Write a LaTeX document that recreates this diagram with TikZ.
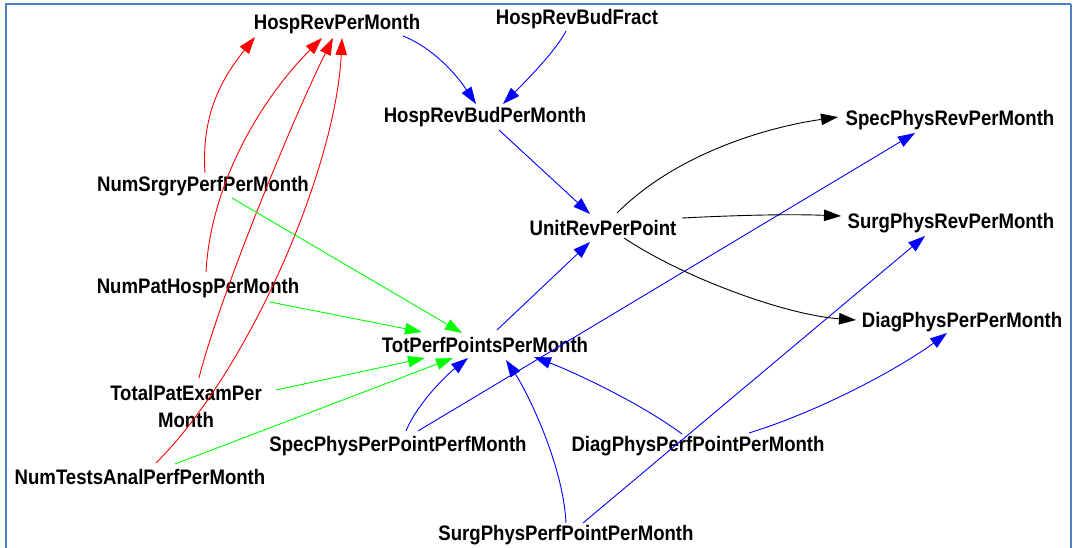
\documentclass[tikz,border=0pt]{standalone}
\usepackage{graphicx}
\usepackage{fontspec}
\setmainfont{Liberation Sans}
\usetikzlibrary{arrows.meta}
\definecolor{framecol}{HTML}{4F81BD}
\definecolor{grn}{HTML}{00FF00}
% narrowed bold label text
\newcommand\vlabel[1]{\scalebox{0.885}[1]{#1}}
\begin{document}
\begin{tikzpicture}[x=1pt,y=-1pt,
  var/.style={inner sep=0pt,font=\fontsize{21}{27}\selectfont\bfseries,align=center},
  link/.style={line width=0.9pt,-{Triangle[length=17pt,width=11.5pt]}},
  redlink/.style={link,red},
  grnlink/.style={link,grn},
  bluelink/.style={link,blue},
  blklink/.style={link,black}]
\useasboundingbox (0,0) rectangle (1073,548);
% frame
\draw[framecol,line width=2.2pt] (6,548) -- (6,4) -- (1071,4);
\draw[framecol,line width=1.2pt] (1071,4) -- (1071,548);

% variables
\node[var] (hrpm)  at (337,24)  {\vlabel{HospRevPerMonth}};
\node[var] (hrbf)  at (577,19)  {\vlabel{HospRevBudFract}};
\node[var] (hrbpm) at (485,117) {\vlabel{HospRevBudPerMonth}};
\node[var] (sprm)  at (950,120) {\vlabel{SpecPhysRevPerMonth}};
\node[var] (nsp)   at (203,186) {\vlabel{NumSrgryPerfPerMonth}};
\node[var] (urpp)  at (603,228) {\vlabel{UnitRevPerPoint}};
\node[var] (surm)  at (951,223) {\vlabel{SurgPhysRevPerMonth}};
\node[var] (nph)   at (198,288) {\vlabel{NumPatHospPerMonth}};
\node[var] (dppm)  at (962,322) {\vlabel{DiagPhysPerPerMonth}};
\node[var] (tpp)   at (485,345) {\vlabel{TotPerfPointsPerMonth}};
\node[var] (tpe)   at (186,406) {\vlabel{TotalPatExamPer}\\\vlabel{Month}};
\node[var] (spp)   at (398,446) {\vlabel{SpecPhysPerPointPerfMonth}};
\node[var] (dpp)   at (698,446) {\vlabel{DiagPhysPerfPointPerMonth}};
\node[var] (nta)   at (140,477) {\vlabel{NumTestsAnalPerfPerMonth}};
\node[var] (sup)   at (566,535) {\vlabel{SurgPhysPerfPointPerMonth}};

% inputs of HospRevPerMonth
\draw[redlink] ([shift={(2,-13)}]nsp.center) .. controls +(-4,-60) and +(-32,40) .. ([shift={(-82,13)}]hrpm.center);
\draw[redlink] ([shift={(8,-16)}]nph.center) .. controls +(5,-90) and +(-60,60) .. ([shift={(-15,14)}]hrpm.center);
\draw[redlink] ([shift={(13,-28)}]tpe.center) .. controls +(20,-80) and +(-40,80) .. ([shift={(-4,14)}]hrpm.center);
\draw[redlink] ([shift={(16,-14)}]nta.center) .. controls +(95,-95) and +(-6,128) .. ([shift={(5,14)}]hrpm.center);

% inputs of TotPerfPointsPerMonth
\draw[grnlink] ([shift={(29,12)}]nsp.center) -- ([shift={(-23,-12)}]tpp.center);
\draw[grnlink] ([shift={(72,14)}]nph.center) -- ([shift={(-63,-13)}]tpp.center);
\draw[grnlink] ([shift={(90,-16)}]tpe.center) -- ([shift={(-60,13)}]tpp.center);
\draw[grnlink] ([shift={(35,-13)}]nta.center) -- ([shift={(-32,13)}]tpp.center);

% revenue budget chain
\draw[bluelink] ([shift={(66,12)}]hrpm.center) .. controls +(30,12) and +(-20,-30) .. ([shift={(-9,-13)}]hrbpm.center);
\draw[bluelink] ([shift={(-11,12)}]hrbf.center) .. controls +(-10,20) and +(20,-20) .. ([shift={(18,-13)}]hrbpm.center);
\draw[bluelink] ([shift={(14,13)}]hrbpm.center) -- ([shift={(-13,-14)}]urpp.center);
\draw[bluelink] ([shift={(12,-15)}]tpp.center) -- ([shift={(-13,14)}]urpp.center);

% per-point performance inputs
\draw[bluelink] ([shift={(8,-15)}]spp.center) .. controls +(10,-25) and +(-25,20) .. ([shift={(-17,13)}]tpp.center);
\draw[bluelink] ([shift={(20,-15)}]spp.center) -- ([shift={(-35,13)}]sprm.center);
\draw[bluelink] ([shift={(0,-12)}]sup.center) .. controls +(-3,-60) and +(20,30) .. ([shift={(21,15)}]tpp.center);
\draw[bluelink] ([shift={(17,-12)}]sup.center) -- ([shift={(-26,13)}]surm.center);
\draw[bluelink] ([shift={(-16,-12)}]dpp.center) .. controls +(-40,-30) and +(40,15) .. ([shift={(49,12)}]tpp.center);
\draw[bluelink] ([shift={(51,-13)}]dpp.center) .. controls +(80,-25) and +(-40,30) .. ([shift={(-15,11)}]dppm.center);

% outputs of UnitRevPerPoint
\draw[blklink] ([shift={(14,-15)}]urpp.center) .. controls +(60,-60) and +(-70,10) .. ([shift={(-112,-3)}]sprm.center);
\draw[blklink] ([shift={(79,-10)}]urpp.center) .. controls +(60,-3) and +(-50,-2) .. ([shift={(-110,-7)}]surm.center);
\draw[blklink] ([shift={(21,10)}]urpp.center) .. controls +(60,40) and +(-70,-5) .. ([shift={(-106,-2)}]dppm.center);
\end{tikzpicture}
\end{document}
